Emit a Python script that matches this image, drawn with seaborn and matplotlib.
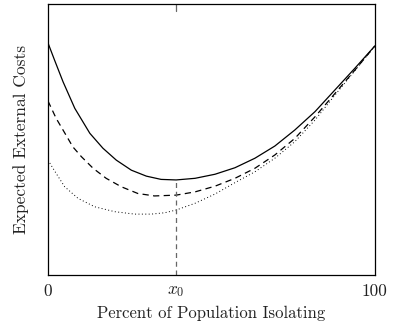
import matplotlib
matplotlib.use("Agg")
import matplotlib.pyplot as plt
import seaborn as sns

sns.set_theme(style="white")
plt.rcParams['font.family'] = ['cmr10', 'DejaVu Serif']
plt.rcParams['mathtext.fontset'] = 'cm'
plt.rcParams['axes.formatter.use_mathtext'] = True

x0 = 39.2

solid_x = [0, 2.0, 4.6, 8.2, 12.8, 16.8, 20.9, 25.5, 30.1, 34.6, 39.2, 45.0, 51.1, 57.2,
           63.3, 69.4, 75.5, 81.7, 87.8, 93.9, 100]
solid_y = [85.6, 79.3, 71.3, 61.5, 52.3, 46.8, 42.4, 38.7, 36.5, 35.3, 35.1, 35.7, 37.2, 39.6,
           43.1, 47.6, 53.5, 60.3, 68.3, 76.3, 84.5]

dashed_x = [0, 2.5, 4.6, 7.6, 10.2, 13.8, 17.8, 22.4, 27.5, 32.6, 39.2, 45.0, 51.1, 57.2,
            63.3, 69.4, 75.5, 81.7, 87.8, 93.9, 100]
dashed_y = [64.2, 57.8, 53.5, 47.3, 43.7, 39.4, 35.7, 32.6, 30.1, 29.2, 29.5, 30.7, 32.8, 35.7,
            39.4, 44.3, 50.4, 58.4, 67.0, 75.6, 84.5]

dotted_x = [0, 2.5, 5.1, 9.2, 14.3, 20.4, 26.5, 31.6, 35.7, 39.2, 45.0, 51.1, 57.2,
            63.3, 69.4, 75.5, 81.7, 87.8, 93.9, 100]
dotted_y = [42.4, 37.5, 32.6, 28.3, 25.2, 23.4, 22.5, 22.5, 23.0, 24.0, 26.5, 29.9, 34.1,
            38.1, 43.1, 49.2, 57.2, 66.4, 75.4, 84.5]

x_ticks = [0, x0, 100]
x_ticklabels = ['0', '$x_0$', '100']

fig, ax = plt.subplots(figsize=(3.95, 3.26), dpi=100)
fig.subplots_adjust(left=0.1215, right=0.949, top=0.988, bottom=0.156)

sns.lineplot(x=solid_x, y=solid_y, ax=ax, color='black', lw=0.9, linestyle='-')
sns.lineplot(x=dashed_x, y=dashed_y, ax=ax, color='black', lw=0.9, linestyle=(0, (5, 3.5)))
sns.lineplot(x=dotted_x, y=dotted_y, ax=ax, color='black', lw=0.7, linestyle=(0, (1, 2.5)))

# vertical dashed marker at x0
ax.plot([x0, x0], [0, solid_y[solid_x.index(x0)]], color='0.4', lw=0.9, linestyle=(0, (4, 3)))
ax.plot([x0, x0], [97.5, 100], color='0.4', lw=0.9)

ax.set_xlim(0, 100)
ax.set_ylim(0, 100)
ax.set_xticks(x_ticks)
ax.set_xticklabels(x_ticklabels)
ax.set_yticks([])
ax.tick_params(axis='x', length=0, labelsize=12.5, pad=6, colors='#222222')
ax.set_xlabel('Percent of Population Isolating', fontsize=12, labelpad=5, color='#222222')
ax.set_ylabel('Expected External Costs', fontsize=12.5, labelpad=14, color='#222222')
for s in ax.spines.values():
    s.set_color('black')
    s.set_linewidth(0.9)

fig.savefig('out.png', dpi=100)
